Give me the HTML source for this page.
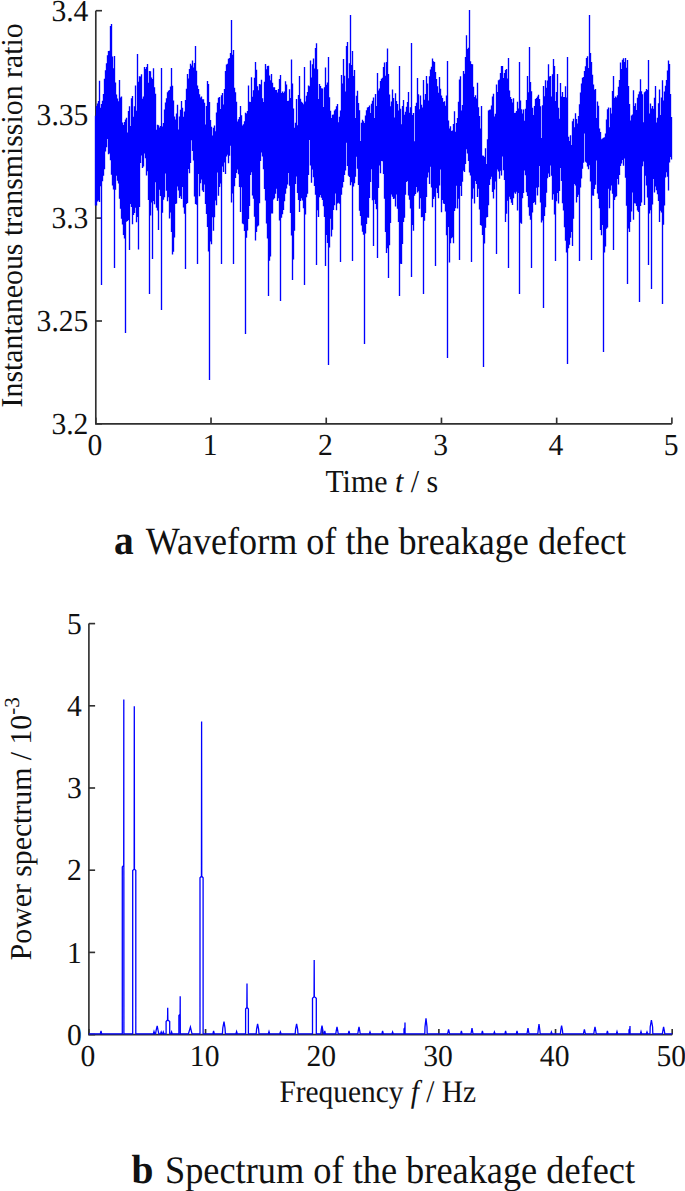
<!DOCTYPE html>
<html><head><meta charset="utf-8"><style>
html,body{margin:0;padding:0;background:#fff;}
svg{display:block;}
text{font-family:"Liberation Serif",serif;fill:#111;text-rendering:geometricPrecision;}
</style></head><body>
<svg width="685" height="1191" viewBox="0 0 685 1191">
<rect width="685" height="1191" fill="#fff"/>
<g stroke="#303030" stroke-width="1.65" fill="none" stroke-linecap="butt">
<path d="M95.8 10.7 L95.8 423.8 L671.9 423.8"/>
<line x1="95.80" y1="423.80" x2="102.00" y2="423.80"/>
<line x1="95.80" y1="321.00" x2="102.00" y2="321.00"/>
<line x1="95.80" y1="218.10" x2="102.00" y2="218.10"/>
<line x1="95.80" y1="114.90" x2="102.00" y2="114.90"/>
<line x1="95.80" y1="10.70" x2="102.00" y2="10.70"/>
<line x1="95.80" y1="423.80" x2="95.80" y2="417.60"/>
<line x1="211.02" y1="423.80" x2="211.02" y2="417.60"/>
<line x1="326.24" y1="423.80" x2="326.24" y2="417.60"/>
<line x1="441.46" y1="423.80" x2="441.46" y2="417.60"/>
<line x1="556.68" y1="423.80" x2="556.68" y2="417.60"/>
<line x1="671.90" y1="423.80" x2="671.90" y2="417.60"/>
<path d="M88.9 623.6 L88.9 1034.6 L672.2 1034.6"/>
<line x1="88.90" y1="1034.60" x2="95.10" y2="1034.60"/>
<line x1="88.90" y1="952.40" x2="95.10" y2="952.40"/>
<line x1="88.90" y1="870.20" x2="95.10" y2="870.20"/>
<line x1="88.90" y1="788.00" x2="95.10" y2="788.00"/>
<line x1="88.90" y1="705.80" x2="95.10" y2="705.80"/>
<line x1="88.90" y1="623.60" x2="95.10" y2="623.60"/>
<line x1="88.90" y1="1034.60" x2="88.90" y2="1029.00"/>
<line x1="205.56" y1="1034.60" x2="205.56" y2="1029.00"/>
<line x1="322.22" y1="1034.60" x2="322.22" y2="1029.00"/>
<line x1="438.88" y1="1034.60" x2="438.88" y2="1029.00"/>
<line x1="555.54" y1="1034.60" x2="555.54" y2="1029.00"/>
<line x1="672.20" y1="1034.60" x2="672.20" y2="1029.00"/>
</g>
<path d="M95.5 115.7V205.6M96.5 105.9V205.5M97.5 103.5V201.5M98.5 100.9V200.4M99.5 80.7V202.0M100.5 107.7V186.3M101.5 104.0V285.0M102.5 100.7V181.3M103.5 94.0V175.8M104.5 78.8V169.3M105.5 70.3V151.4M106.5 63.2V147.2M107.5 55.2V139.1M108.5 51.1V154.2M109.5 50.7V153.5M110.5 26.0V160.2M111.5 24.0V174.8M112.5 56.4V185.5M113.5 68.3V189.4M114.5 56.0V268.0M115.5 82.4V189.7M116.5 94.6V175.7M117.5 98.5V180.8M118.5 101.3V183.5M119.5 80.0V198.8M120.5 97.6V208.8M121.5 96.4V218.7M122.5 122.5V224.5M123.5 125.0V235.0M124.5 122.0V238.5M125.5 119.5V333.0M126.5 117.7V221.8M127.5 132.6V221.1M128.5 110.9V220.1M129.5 106.3V250.0M130.5 126.0V204.1M131.5 98.2V207.1M132.5 95.9V224.3M133.5 116.7V215.1M134.5 106.2V213.1M135.5 85.5V207.8M136.5 110.7V222.2M137.5 54.0V217.0M138.5 81.8V249.6M139.5 76.3V206.9M140.5 76.5V163.0M141.5 74.3V155.4M142.5 98.7V168.1M143.5 96.4V166.5M144.5 67.0V153.5M145.5 69.1V158.3M146.5 66.9V175.6M147.5 64.1V171.2M148.5 82.7V200.0M149.5 71.0V294.0M150.5 71.2V215.5M151.5 77.4V202.6M152.5 79.1V259.0M153.5 68.2V201.1M154.5 87.3V204.2M155.5 93.8V182.3M156.5 129.7V207.8M157.5 124.7V210.5M158.5 125.2V229.9M159.5 127.5V189.7M160.5 125.9V196.0M161.5 68.0V310.0M162.5 126.4V212.7M163.5 123.0V199.7M164.5 109.4V197.2M165.5 102.6V173.4M166.5 98.3V190.8M167.5 92.3V201.3M168.5 90.7V197.3M169.5 90.0V218.6M170.5 86.4V212.5M171.5 68.0V232.0M172.5 85.8V254.4M173.5 100.4V251.8M174.5 116.6V237.4M175.5 119.6V204.0M176.5 113.5V203.5M177.5 104.7V186.5M178.5 129.5V190.6M179.5 116.6V198.0M180.5 109.7V196.2M181.5 101.1V199.1M182.5 107.8V186.9M183.5 116.7V207.4M184.5 111.5V213.7M185.5 100.0V269.0M186.5 88.8V204.0M187.5 74.1V202.9M188.5 78.4V169.0M189.5 69.1V173.2M190.5 63.7V162.9M191.5 65.4V140.3M192.5 60.6V151.0M193.5 67.5V160.5M194.5 63.1V196.6M195.5 46.0V204.1M196.5 70.7V204.7M197.5 85.6V264.0M198.5 89.0V174.1M199.5 94.3V196.3M200.5 97.4V183.3M201.5 96.4V179.4M202.5 99.3V190.4M203.5 99.3V192.0M204.5 102.7V184.6M205.5 124.6V204.0M206.5 105.9V214.0M207.5 81.1V227.0M208.5 83.9V251.4M209.5 101.9V380.0M210.5 120.0V241.6M211.5 126.8V244.3M212.5 135.6V217.3M213.5 127.8V230.7M214.5 125.6V217.2M215.5 131.3V200.5M216.5 112.4V205.2M217.5 102.7V172.6M218.5 97.8V195.7M219.5 97.1V186.9M220.5 109.1V183.4M221.5 95.3V264.0M222.5 92.9V166.5M223.5 104.6V171.9M224.5 89.1V162.5M225.5 71.0V174.1M226.5 64.6V156.5M227.5 63.7V154.8M228.5 58.8V163.2M229.5 57.9V155.7M230.5 53.0V145.8M231.5 20.0V202.4M232.5 54.7V193.6M233.5 50.0V264.0M234.5 87.7V186.2M235.5 92.3V177.9M236.5 101.7V173.1M237.5 121.5V169.6M238.5 119.2V174.3M239.5 117.0V187.0M240.5 105.9V211.9M241.5 115.3V187.2M242.5 125.4V223.4M243.5 124.3V224.3M244.5 121.3V230.9M245.5 112.7V334.0M246.5 113.6V237.8M247.5 111.1V230.4M248.5 85.6V219.0M249.5 101.8V205.9M250.5 102.0V174.9M251.5 77.3V172.3M252.5 96.7V195.5M253.5 90.2V198.7M254.5 77.7V216.8M255.5 62.0V240.5M256.5 69.8V231.9M257.5 86.2V226.5M258.5 90.3V225.6M259.5 84.1V203.2M260.5 84.6V160.9M261.5 79.8V152.6M262.5 98.3V156.6M263.5 102.0V169.3M264.5 81.7V189.1M265.5 63.9V200.6M266.5 69.3V223.4M267.5 66.0V238.4M268.5 65.8V296.0M269.5 75.6V260.8M270.5 80.2V256.4M271.5 74.0V213.4M272.5 82.8V213.5M273.5 87.2V199.6M274.5 87.2V198.2M275.5 90.0V193.8M276.5 89.9V188.7M277.5 92.6V201.0M278.5 89.1V198.2M279.5 79.0V220.6M280.5 75.0V301.0M281.5 93.1V217.7M282.5 91.5V214.3M283.5 93.1V210.0M284.5 91.5V201.3M285.5 81.2V193.8M286.5 84.4V188.5M287.5 100.9V184.5M288.5 100.7V173.0M289.5 89.3V185.7M290.5 98.1V213.1M291.5 59.4V235.6M292.5 83.4V280.0M293.5 108.4V259.4M294.5 127.7V230.7M295.5 122.7V184.1M296.5 99.1V176.5M297.5 125.2V193.1M298.5 95.1V199.9M299.5 76.0V212.0M300.5 98.8V201.0M301.5 101.7V198.2M302.5 102.7V200.5M303.5 104.2V208.2M304.5 67.0V285.0M305.5 101.5V214.5M306.5 95.8V197.3M307.5 92.0V193.7M308.5 85.6V175.1M309.5 86.3V140.1M310.5 60.5V165.6M311.5 77.6V182.7M312.5 64.2V169.4M313.5 58.6V177.2M314.5 68.6V185.9M315.5 48.0V194.8M316.5 43.3V265.0M317.5 69.3V210.2M318.5 98.9V217.1M319.5 84.0V197.3M320.5 86.0V194.9M321.5 88.3V197.7M322.5 88.6V199.9M323.5 106.9V206.3M324.5 87.2V217.1M325.5 67.6V266.0M326.5 84.8V235.1M327.5 82.5V242.9M328.5 57.0V365.0M329.5 97.3V247.4M330.5 110.8V218.8M331.5 118.0V236.6M332.5 114.8V229.7M333.5 114.4V210.0M334.5 110.5V205.3M335.5 109.2V193.5M336.5 106.3V210.2M337.5 104.1V203.6M338.5 122.2V202.7M339.5 116.7V203.7M340.5 110.5V262.0M341.5 75.1V194.8M342.5 83.4V187.5M343.5 59.0V182.1M344.5 75.7V175.1M345.5 91.4V170.4M346.5 46.0V142.8M347.5 42.0V165.9M348.5 78.3V175.8M349.5 63.3V177.0M350.5 15.0V185.3M351.5 65.0V182.2M352.5 51.0V261.0M353.5 76.0V186.4M354.5 69.9V183.3M355.5 118.1V176.7M356.5 95.8V156.8M357.5 90.7V168.8M358.5 103.1V185.0M359.5 110.3V210.8M360.5 140.9V216.1M361.5 122.8V225.5M362.5 119.7V231.8M363.5 121.3V234.8M364.5 123.1V344.0M365.5 115.4V233.4M366.5 110.3V224.1M367.5 107.5V217.5M368.5 107.1V217.7M369.5 105.5V198.0M370.5 112.9V182.1M371.5 103.7V169.3M372.5 100.7V200.2M373.5 97.6V246.0M374.5 117.9V199.8M375.5 94.1V204.1M376.5 105.9V209.2M377.5 73.0V258.0M378.5 90.6V187.9M379.5 88.5V165.4M380.5 81.1V173.2M381.5 78.8V161.0M382.5 77.8V161.3M383.5 66.9V174.0M384.5 62.5V198.7M385.5 75.8V232.1M386.5 61.9V253.0M387.5 48.4V248.2M388.5 73.9V278.0M389.5 94.6V245.3M390.5 106.2V223.1M391.5 101.6V194.6M392.5 89.6V196.8M393.5 97.9V198.9M394.5 117.4V198.5M395.5 93.2V206.5M396.5 101.1V194.4M397.5 104.0V208.7M398.5 110.4V222.0M399.5 66.0V296.0M400.5 108.7V263.7M401.5 124.3V264.0M402.5 105.9V243.9M403.5 99.9V222.0M404.5 114.8V217.7M405.5 111.8V194.7M406.5 106.7V181.9M407.5 102.0V181.0M408.5 91.9V195.6M409.5 112.8V199.8M410.5 107.2V208.5M411.5 43.0V277.0M412.5 115.1V225.1M413.5 112.9V230.8M414.5 141.3V195.7M415.5 105.9V194.0M416.5 102.8V187.1M417.5 78.0V192.5M418.5 94.3V191.2M419.5 109.3V208.8M420.5 95.6V198.3M421.5 104.8V217.2M422.5 107.4V217.0M423.5 80.0V294.0M424.5 99.7V220.7M425.5 94.1V213.1M426.5 76.0V197.1M427.5 83.5V177.5M428.5 100.4V172.5M429.5 76.2V184.1M430.5 69.4V166.7M431.5 66.8V187.6M432.5 58.4V207.2M433.5 61.3V198.9M434.5 61.9V196.7M435.5 71.9V266.0M436.5 79.1V188.2M437.5 86.2V193.0M438.5 92.7V198.2M439.5 77.0V185.6M440.5 88.8V169.5M441.5 95.4V212.2M442.5 97.9V199.9M443.5 101.9V203.4M444.5 101.3V204.1M445.5 105.8V211.5M446.5 95.4V235.3M447.5 61.0V358.0M448.5 120.6V226.9M449.5 128.6V262.6M450.5 126.2V243.3M451.5 130.9V238.3M452.5 130.4V237.3M453.5 124.1V243.2M454.5 111.3V211.0M455.5 131.8V208.2M456.5 122.9V185.8M457.5 118.0V208.4M458.5 101.7V198.8M459.5 79.5V260.0M460.5 76.2V185.9M461.5 110.4V195.9M462.5 105.0V181.8M463.5 71.0V170.7M464.5 73.7V171.9M465.5 57.0V164.1M466.5 35.2V149.2M467.5 49.1V153.5M468.5 47.8V161.1M469.5 10.0V172.5M470.5 61.3V175.6M471.5 64.0V262.0M472.5 64.3V198.7M473.5 86.8V188.6M474.5 97.1V203.4M475.5 95.3V180.9M476.5 98.6V184.1M477.5 82.7V197.0M478.5 107.2V188.8M479.5 116.1V209.5M480.5 128.4V224.9M481.5 106.0V225.7M482.5 155.6V235.0M483.5 155.7V367.0M484.5 157.0V243.4M485.5 148.2V227.8M486.5 164.1V217.5M487.5 139.3V217.0M488.5 110.4V205.3M489.5 109.7V185.1M490.5 109.6V179.2M491.5 105.4V176.8M492.5 96.5V191.9M493.5 93.7V198.5M494.5 116.6V189.5M495.5 113.7V181.4M496.5 84.6V254.0M497.5 92.1V169.5M498.5 80.2V171.4M499.5 79.6V178.8M500.5 73.0V170.7M501.5 66.0V175.5M502.5 66.0V156.6M503.5 77.9V170.2M504.5 73.1V180.1M505.5 70.0V222.0M506.5 69.1V213.7M507.5 78.4V200.8M508.5 58.0V268.0M509.5 90.6V196.8M510.5 97.1V199.3M511.5 99.1V202.8M512.5 102.6V204.9M513.5 98.3V198.3M514.5 113.0V192.5M515.5 112.7V193.7M516.5 111.0V191.8M517.5 101.7V210.5M518.5 108.6V193.1M519.5 62.0V294.0M520.5 100.4V222.8M521.5 109.2V223.7M522.5 113.5V198.2M523.5 109.4V192.9M524.5 120.8V170.4M525.5 108.7V175.2M526.5 100.0V192.3M527.5 76.1V196.0M528.5 92.3V207.3M529.5 47.0V215.7M530.5 82.1V219.7M531.5 91.2V268.0M532.5 107.7V212.6M533.5 115.1V203.1M534.5 106.1V202.1M535.5 99.0V204.8M536.5 97.9V187.8M537.5 96.6V195.4M538.5 94.7V187.3M539.5 98.9V166.1M540.5 106.3V202.4M541.5 138.1V222.4M542.5 105.3V220.6M543.5 86.0V308.0M544.5 96.3V216.1M545.5 80.2V207.2M546.5 87.7V192.8M547.5 80.6V178.3M548.5 64.2V173.6M549.5 76.5V176.9M550.5 75.9V165.5M551.5 96.4V175.8M552.5 74.2V199.8M553.5 59.0V194.3M554.5 66.1V214.6M555.5 100.9V261.0M556.5 92.0V201.2M557.5 74.0V193.1M558.5 107.7V203.5M559.5 118.8V190.9M560.5 82.9V168.1M561.5 96.6V181.1M562.5 91.9V203.3M563.5 96.9V210.6M564.5 97.0V227.2M565.5 86.2V240.8M566.5 97.5V252.4M567.5 57.0V364.0M568.5 136.7V248.2M569.5 140.9V244.8M570.5 135.2V237.8M571.5 145.1V231.9M572.5 121.2V246.0M573.5 118.7V218.7M574.5 127.3V184.1M575.5 113.3V185.4M576.5 119.0V202.4M577.5 123.4V197.1M578.5 116.1V194.8M579.5 104.3V261.0M580.5 92.4V187.5M581.5 83.4V178.5M582.5 77.7V168.8M583.5 76.9V162.8M584.5 71.1V133.6M585.5 66.2V161.8M586.5 57.9V162.7M587.5 56.3V166.4M588.5 67.9V169.2M589.5 15.0V165.3M590.5 53.0V181.6M591.5 62.0V260.0M592.5 74.7V195.6M593.5 84.5V195.8M594.5 89.7V189.1M595.5 89.1V184.7M596.5 118.0V160.4M597.5 101.6V193.4M598.5 105.7V199.0M599.5 128.4V208.3M600.5 132.1V230.0M601.5 139.3V235.2M602.5 138.4V225.1M603.5 137.8V352.0M604.5 137.3V252.6M605.5 133.4V246.6M606.5 119.4V228.7M607.5 109.3V227.5M608.5 107.6V188.7M609.5 127.2V208.2M610.5 107.7V190.5M611.5 113.5V185.4M612.5 90.9V193.7M613.5 76.0V250.0M614.5 97.9V199.9M615.5 96.5V197.2M616.5 97.4V196.3M617.5 95.2V178.9M618.5 86.8V184.4M619.5 80.0V174.9M620.5 62.4V166.1M621.5 69.0V163.4M622.5 59.8V159.9M623.5 58.3V165.8M624.5 61.9V158.5M625.5 58.0V177.7M626.5 67.7V205.7M627.5 60.0V284.0M628.5 86.1V228.5M629.5 103.9V231.9M630.5 120.4V221.9M631.5 115.4V211.5M632.5 114.4V192.4M633.5 90.3V219.8M634.5 105.9V203.2M635.5 103.2V203.5M636.5 110.0V205.9M637.5 97.7V210.5M638.5 94.2V212.1M639.5 91.6V302.0M640.5 79.3V206.1M641.5 91.3V202.6M642.5 94.2V166.3M643.5 122.2V161.6M644.5 92.2V205.0M645.5 91.3V175.7M646.5 88.9V185.4M647.5 90.1V197.6M648.5 60.0V265.0M649.5 113.4V213.6M650.5 103.5V210.3M651.5 108.6V289.0M652.5 105.9V204.4M653.5 108.8V178.9M654.5 97.7V192.6M655.5 86.0V186.5M656.5 122.4V190.2M657.5 117.7V194.2M658.5 103.2V201.1M659.5 89.5V222.0M660.5 115.0V210.7M661.5 97.5V212.5M662.5 80.3V304.0M663.5 100.5V224.7M664.5 91.4V205.4M665.5 85.8V177.5M666.5 79.9V172.3M667.5 70.6V176.7M668.5 60.6V190.4M669.5 64.0V162.5M670.5 94.1V156.9M671.5 116.9V159.4" fill="none" stroke="#0000ff" stroke-width="1.35"/>
<path d="M88.90 1033.9 L100.30 1033.9 L101.00 1031.0 L101.70 1033.9 L122.30 1033.9 L122.30 866.9 L123.70 865.4 L123.80 699.5 L123.90 1033.9 L132.70 1033.9 L132.70 870.6 L134.15 869.1 L134.30 706.3 L134.45 869.1 L135.80 870.6 L135.80 1033.9 L153.30 1033.9 L154.00 1031.5 L154.80 1033.9 L155.60 1033.9 L156.20 1030.0 L157.20 1025.8 L158.00 1030.0 L158.80 1033.9 L160.50 1033.9 L161.20 1032.0 L161.90 1033.9 L162.60 1033.9 L163.30 1032.0 L164.00 1033.9 L166.10 1033.9 L166.10 1021.5 L167.55 1020.0 L167.70 1007.7 L167.85 1020.0 L169.70 1021.5 L169.70 1033.9 L171.00 1033.9 L171.60 1032.0 L172.20 1033.9 L178.90 1033.9 L178.90 1015.6 L180.10 1014.1 L180.20 996.2 L180.30 1033.9 L188.40 1033.9 L190.40 1027.1 L192.00 1033.9 L200.00 1033.9 L200.00 877.7 L201.45 876.2 L201.60 721.4 L201.75 876.2 L203.10 877.7 L203.10 1033.9 L212.90 1033.9 L213.60 1031.0 L214.30 1033.9 L222.40 1033.9 L222.80 1028.0 L224.00 1021.6 L225.00 1028.0 L225.40 1033.9 L235.90 1033.9 L236.60 1031.5 L237.30 1033.9 L245.60 1033.9 L245.60 1009.0 L246.85 1007.5 L247.00 983.6 L247.15 1007.5 L248.40 1009.0 L248.40 1033.9 L256.20 1033.9 L256.60 1029.0 L257.60 1024.0 L258.60 1029.0 L259.00 1033.9 L268.30 1033.9 L269.00 1031.5 L269.70 1033.9 L279.70 1033.9 L280.40 1032.0 L281.10 1033.9 L295.20 1033.9 L295.60 1029.0 L296.60 1024.0 L297.60 1029.0 L298.00 1033.9 L312.50 1033.9 L312.50 998.2 L314.05 996.7 L314.20 959.9 L314.35 996.7 L316.30 998.2 L316.30 1033.9 L320.80 1033.9 L321.20 1030.0 L322.00 1025.6 L322.80 1030.0 L323.20 1033.9 L324.20 1033.9 L324.80 1031.0 L325.40 1033.9 L335.80 1033.9 L336.20 1031.0 L337.00 1027.0 L337.80 1031.0 L338.20 1033.9 L348.30 1033.9 L349.00 1031.0 L349.70 1033.9 L357.80 1033.9 L358.20 1031.0 L359.00 1027.0 L359.80 1031.0 L360.20 1033.9 L369.30 1033.9 L370.00 1032.0 L370.70 1033.9 L381.90 1033.9 L382.60 1031.0 L383.30 1033.9 L391.90 1033.9 L392.60 1032.0 L393.30 1033.9 L404.00 1033.9 L404.00 1029.0 L404.90 1027.5 L405.00 1022.6 L405.10 1033.9 L424.80 1033.9 L425.00 1027.0 L426.00 1018.4 L427.00 1027.0 L427.20 1033.9 L447.60 1033.9 L448.60 1029.4 L449.60 1033.9 L460.70 1033.9 L461.40 1031.0 L462.10 1033.9 L471.00 1033.9 L472.00 1028.0 L473.00 1033.9 L481.70 1033.9 L482.40 1031.0 L483.10 1033.9 L493.70 1033.9 L494.40 1032.0 L495.10 1033.9 L504.90 1033.9 L505.60 1031.0 L506.30 1033.9 L516.30 1033.9 L517.00 1031.0 L517.70 1033.9 L527.00 1033.9 L528.00 1028.0 L529.00 1033.9 L537.80 1033.9 L538.20 1030.0 L539.00 1024.0 L539.80 1030.0 L540.20 1033.9 L550.70 1033.9 L551.40 1032.0 L552.10 1033.9 L560.40 1033.9 L560.80 1030.0 L561.60 1025.6 L562.40 1030.0 L562.80 1033.9 L583.40 1033.9 L584.40 1029.4 L585.40 1033.9 L593.80 1033.9 L594.20 1031.0 L595.00 1027.0 L595.80 1031.0 L596.20 1033.9 L606.70 1033.9 L607.40 1031.0 L608.10 1033.9 L616.30 1033.9 L617.00 1031.5 L617.70 1033.9 L629.00 1033.9 L629.00 1030.0 L629.90 1028.5 L630.00 1026.0 L630.10 1033.9 L640.30 1033.9 L641.00 1031.5 L641.70 1033.9 L646.30 1033.9 L647.00 1032.0 L647.70 1033.9 L650.00 1033.9 L650.20 1027.0 L651.40 1020.0 L652.60 1027.0 L652.80 1033.9 L662.40 1033.9 L662.80 1031.0 L663.60 1027.0 L664.40 1031.0 L664.80 1033.9 L672.20 1033.9" fill="none" stroke="#0000ff" stroke-width="1.3"/>
<g font-size="29.6">
<text transform="translate(88.4 433.90) scale(1 1.03)" text-anchor="end">3.2</text>
<text transform="translate(88.4 331.10) scale(1 1.03)" text-anchor="end">3.25</text>
<text transform="translate(88.4 228.20) scale(1 1.03)" text-anchor="end">3.3</text>
<text transform="translate(88.4 125.00) scale(1 1.03)" text-anchor="end">3.35</text>
<text transform="translate(88.4 20.80) scale(1 1.03)" text-anchor="end">3.4</text>
<text transform="translate(95.00 455.4) scale(1 1.03)" text-anchor="middle">0</text>
<text transform="translate(210.22 455.4) scale(1 1.03)" text-anchor="middle">1</text>
<text transform="translate(325.44 455.4) scale(1 1.03)" text-anchor="middle">2</text>
<text transform="translate(440.66 455.4) scale(1 1.03)" text-anchor="middle">3</text>
<text transform="translate(555.88 455.4) scale(1 1.03)" text-anchor="middle">4</text>
<text transform="translate(671.10 455.4) scale(1 1.03)" text-anchor="middle">5</text>
<text transform="translate(81.9 1044.80) scale(1 1.03)" text-anchor="end">0</text>
<text transform="translate(81.9 962.60) scale(1 1.03)" text-anchor="end">1</text>
<text transform="translate(81.9 880.40) scale(1 1.03)" text-anchor="end">2</text>
<text transform="translate(81.9 798.20) scale(1 1.03)" text-anchor="end">3</text>
<text transform="translate(81.9 716.00) scale(1 1.03)" text-anchor="end">4</text>
<text transform="translate(81.9 633.80) scale(1 1.03)" text-anchor="end">5</text>
<text transform="translate(88.00 1065.6) scale(1 1.03)" text-anchor="middle">0</text>
<text transform="translate(204.66 1065.6) scale(1 1.03)" text-anchor="middle">10</text>
<text transform="translate(321.32 1065.6) scale(1 1.03)" text-anchor="middle">20</text>
<text transform="translate(437.98 1065.6) scale(1 1.03)" text-anchor="middle">30</text>
<text transform="translate(554.64 1065.6) scale(1 1.03)" text-anchor="middle">40</text>
<text transform="translate(671.30 1065.6) scale(1 1.03)" text-anchor="middle">50</text>
</g>
<text transform="translate(22.2 407.4) rotate(-90) scale(1 1.02)" font-size="29.8">Instantaneous transmission ratio</text>
<text transform="translate(325.4 492) scale(1 1.07)" font-size="29.9">Time <tspan font-style="italic">t</tspan> / s</text>
<text transform="translate(114.0 553.5) scale(1 1.05)" font-size="39.5" font-weight="bold">a</text>
<text transform="translate(145.8 553.5) scale(1 1.07)" font-size="36.12">Waveform of the breakage defect</text>
<text transform="translate(30.6 960.2) rotate(-90) scale(1 1.02)" font-size="29.75">Power spectrum / 10<tspan font-size="21" dy="-11.8">-3</tspan></text>
<text transform="translate(279.4 1101.6) scale(1 1.07)" font-size="29.4">Frequency <tspan font-style="italic">f</tspan> / Hz</text>
<text transform="translate(131.4 1183.2) scale(1 1.03)" font-size="39.5" font-weight="bold">b</text>
<text transform="translate(165.0 1183.2) scale(1 1.07)" font-size="36.35">Spectrum of the breakage defect</text>
</svg>
</body></html>
